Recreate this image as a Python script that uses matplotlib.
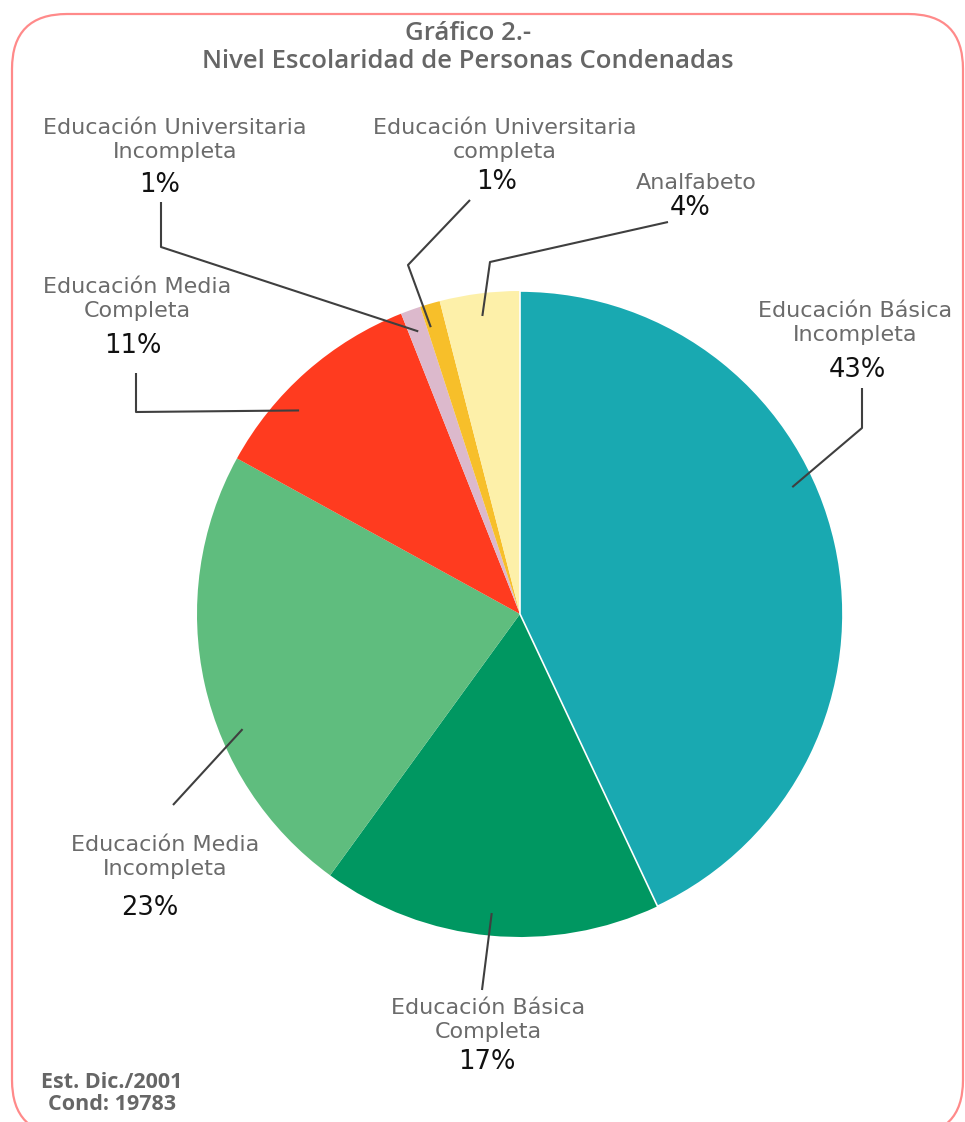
import matplotlib.pyplot as plt
from matplotlib.patches import FancyBboxPatch
import numpy as np

W, H = 965, 1122

categorias = ['Educación Básica\nIncompleta', 'Educación Básica\nCompleta',
              'Educación Media\nIncompleta', 'Educación Media\nCompleta',
              'Educación Universitaria\nIncompleta', 'Educación Universitaria\ncompleta',
              'Analfabeto']
porcentajes = [43, 17, 23, 11, 1, 1, 4]
colores = ['#19a9b1', '#009761', '#5fbd7e', '#ff3b1f', '#dcb9cc', '#f7bf2a', '#fdf0a9']

titulo = ['Gráfico 2.-', 'Nivel Escolaridad de Personas Condenadas']
pie_nota = ['Est. Dic./2001', 'Cond: 19783']

# layout in pixel units (y measured from the top)
centro = (520, 614)
radio = 323
# where along each wedge the leader line touches (0 = start, 1 = end, clockwise)
pos_ancla = [0.42, 0.5, 0.38, 0.35, 0.5, 0.2, 0.5]
# text position of the name (centre of block) and of the percentage
pos_nombre = [(855, 323), (488, 1020), (165, 857), (137, 299), (175, 140), (505, 140), (696, 183)]
pos_pct = [(857, 370), (487, 1062), (150, 908), (133, 346), (160, 185), (497, 182), (690, 208)]
# leader line points from the label side to the elbow
guias = [[(862, 388), (862, 428)],
         [(482, 990)],
         [(173, 805)],
         [(136, 373), (136, 412)],
         [(161, 202), (161, 247)],
         [(470, 200), (408, 265)],
         [(668, 222), (490, 262)]]


def P(x, y):
    return (x, H - y)


fig = plt.figure(figsize=(W / 100, H / 100), dpi=100)
ax = fig.add_axes([0, 0, 1, 1])

wedges, _ = ax.pie(porcentajes, colors=colores, startangle=90, counterclock=False,
                   center=P(*centro), radius=radio, frame=True,
                   wedgeprops=dict(linewidth=0))
wedges[0].set_edgecolor('white')
wedges[0].set_linewidth(1.2)
wedges[0].set_zorder(3)

ax.set_xlim(0, W)
ax.set_ylim(0, H)
ax.set_aspect('equal')
ax.axis('off')

gris = '#6b6b6b'
for i, w in enumerate(wedges):
    # clockwise sweep: theta2 is the start, theta1 the end
    ang = np.radians(w.theta2 - pos_ancla[i] * (w.theta2 - w.theta1))
    cx, cy = P(*centro)
    ax_x = cx + 0.93 * radio * np.cos(ang)
    ax_y = cy + 0.93 * radio * np.sin(ang)
    pts = [P(*p) for p in guias[i]] + [(ax_x, ax_y)]
    xs, ys = zip(*pts)
    ax.plot(xs, ys, color='#3f3f3f', lw=1.5, solid_capstyle='butt', zorder=5)

    nx, ny = P(*pos_nombre[i])
    ax.text(nx, ny, categorias[i], ha='center', va='center', fontsize=16,
            color=gris, family='DejaVu Sans', linespacing=1.2)
    px, py = P(*pos_pct[i])
    ax.text(px, py, f'{porcentajes[i]}%', ha='center', va='center', fontsize=18.5,
            color='#111111', family='DejaVu Sans')

for linea, y in zip(titulo, [33, 61]):
    ax.text(*P(468, y), linea, ha='center', va='center', fontsize=18.5,
            color='#666666', family='Open Sans', weight='semibold')
for linea, y in zip(pie_nota, [1082, 1104]):
    ax.text(*P(112, y), linea, ha='center', va='center', fontsize=15.5,
            color='#666666', family='Open Sans', weight='bold')

marco = FancyBboxPatch(P(12, 1135), 951, 1121,
                       boxstyle='round,pad=0,rounding_size=55',
                       fill=False, edgecolor='#ff8a8a', lw=1.6, zorder=1)
ax.add_patch(marco)

fig.savefig('out.png', dpi=100)
